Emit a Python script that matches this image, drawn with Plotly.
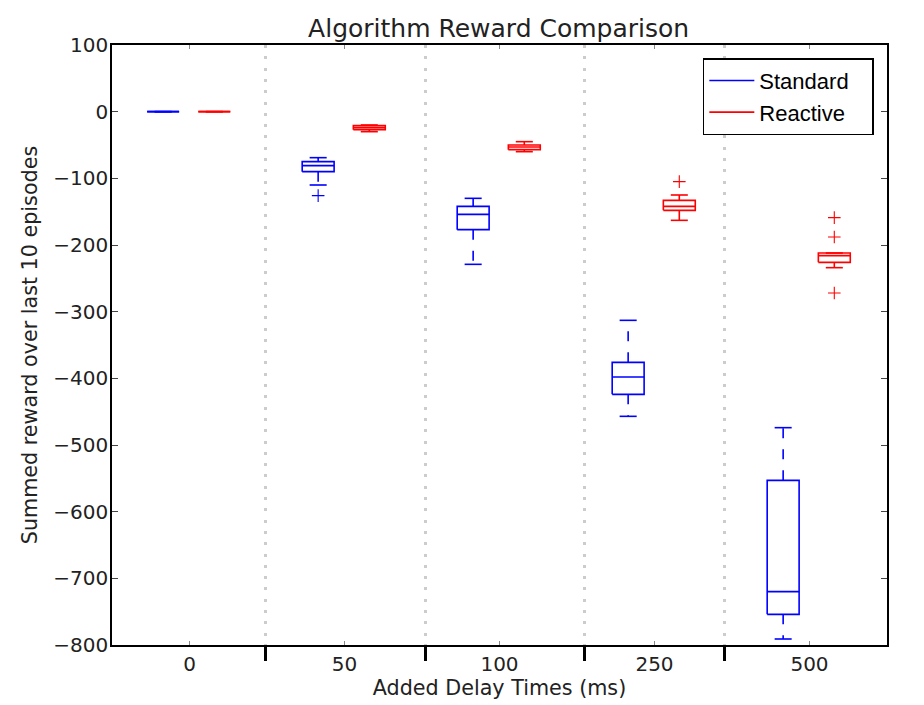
import plotly.graph_objects as go

# Delay groups (x categories)
delays = ["0", "50", "100", "250", "500"]

# Standard algorithm box stats
std_whislo = [0, -110, -229, -457, -791]
std_q1 = [0, -90, -177, -424, -754]
std_med = [0, -81, -154, -398, -720]
std_q3 = [0, -75, -142, -376, -553]
std_whishi = [0, -69, -130, -313, -474]
std_fliers = [[], [-126], [], [], []]

# Reactive algorithm box stats
rea_whislo = [0, -30, -60, -163, -234]
rea_q1 = [0, -27, -57, -148, -226]
rea_med = [0, -24, -53, -142, -216]
rea_q3 = [0, -21, -50, -133, -212]
rea_whishi = [0, -20, -45, -125, -212]
rea_fliers = [[], [], [], [-105], [-159, -188, -272]]

# dotted separators between groups
dividers = [0.49, 1.52, 2.55, 3.45]

y_ticks = [100, 0, -100, -200, -300, -400, -500, -600, -700, -800]

BOX_HALF = 0.103
CAP_HALF = 0.055


def box_traces(offset, whislo, q1, med, q3, whishi, fliers, color, name):
    sx, sy = [], []   # solid parts: box, median, caps
    dx, dy = [], []   # dashed whiskers
    fx, fy = [], []   # outliers
    for i in range(len(delays)):
        c = i + offset
        sx += [c - BOX_HALF, c + BOX_HALF, c + BOX_HALF, c - BOX_HALF, c - BOX_HALF, None]
        sy += [q1[i], q1[i], q3[i], q3[i], q1[i], None]
        sx += [c - BOX_HALF, c + BOX_HALF, None]
        sy += [med[i], med[i], None]
        sx += [c - CAP_HALF, c + CAP_HALF, None, c - CAP_HALF, c + CAP_HALF, None]
        sy += [whislo[i], whislo[i], None, whishi[i], whishi[i], None]
        dx += [c, c, None, c, c, None]
        dy += [q1[i], whislo[i], None, q3[i], whishi[i], None]
        for v in fliers[i]:
            fx.append(c)
            fy.append(v)
    return [
        go.Scatter(x=sx, y=sy, mode="lines", name=name + "\u00a0\u00a0\u00a0",
                   line=dict(color=color, width=1.6), hoverinfo="skip"),
        go.Scatter(x=dx, y=dy, mode="lines", showlegend=False,
                   line=dict(color=color, width=1.6, dash="10px,11px"), hoverinfo="skip"),
        go.Scatter(x=fx, y=fy, mode="markers", showlegend=False,
                   marker=dict(symbol="cross-thin", size=9, color=color,
                               line=dict(color=color, width=1.1)), hoverinfo="skip"),
    ]


fig = go.Figure()
for t in box_traces(-0.17, std_whislo, std_q1, std_med, std_q3, std_whishi,
                    std_fliers, "#0000ff", "Standard"):
    fig.add_trace(t)
for t in box_traces(0.16, rea_whislo, rea_q1, rea_med, rea_q3, rea_whishi,
                    rea_fliers, "#ff0000", "Reactive"):
    fig.add_trace(t)

# dummy trace so the top axis gets drawn
fig.add_trace(go.Scatter(x=[None], y=[None], xaxis="x2", showlegend=False, hoverinfo="skip"))

tick_font = dict(family="DejaVu Sans", size=20, color="#222222")
label_font = dict(family="DejaVu Sans", size=20.7, color="#222222")

# page body has an 8px margin, so margins are shifted to compensate
fig.update_layout(
    width=924, height=705,
    margin=dict(l=104, r=45, t=37, b=68),
    paper_bgcolor="white", plot_bgcolor="white",
    title=dict(text="Algorithm Reward Comparison", x=0.531, xanchor="center",
               y=0.9716, yanchor="middle", yref="container",
               font=dict(family="DejaVu Sans", size=25, color="#222222")),
    showlegend=True,
    legend=dict(x=0.983, y=0.978, xanchor="right", yanchor="top",
                bordercolor="black", borderwidth=1.5, bgcolor="white",
                font=dict(family="Liberation Sans", size=22, color="black"),
                tracegroupgap=0, itemwidth=45),
    xaxis=dict(
        range=[-0.5, 4.5], tickmode="array", tickvals=list(range(len(delays))),
        ticktext=delays, ticks="inside", ticklen=4, tickcolor="#888888",
        showline=True, linecolor="black", linewidth=1.5, mirror=True,
        showgrid=False, zeroline=False, tickfont=tick_font, automargin=False,
        minor=dict(tickmode="array", tickvals=dividers, ticks="outside",
                   ticklen=14, tickwidth=3, tickcolor="black",
                   showgrid=True, gridcolor="#cccccc", gridwidth=3,
                   griddash="3px,8.3px"),
        title=dict(text="Added Delay Times (ms)", standoff=6, font=label_font),
    ),
    xaxis2=dict(
        overlaying="x", side="top", range=[-0.5, 4.5], tickmode="array",
        tickvals=list(range(len(delays))), ticks="inside", ticklen=4,
        tickcolor="#888888", showticklabels=False, showgrid=False,
        zeroline=False, showline=False, automargin=False,
    ),
    yaxis=dict(
        range=[-800, 100], tickmode="array", tickvals=y_ticks,
        ticktext=[str(v).replace("-", "\u2212") for v in y_ticks],
        ticks="inside", ticklen=6, tickcolor="#444444",
        showline=True, linecolor="black", linewidth=1.5, mirror="ticks",
        showgrid=False, zeroline=False, tickfont=tick_font, automargin=False,
        ticklabelstandoff=-2,
        title=dict(text="Summed reward over last 10 episodes", standoff=10,
                   font=label_font),
    ),
)

fig.write_html("out.html")
